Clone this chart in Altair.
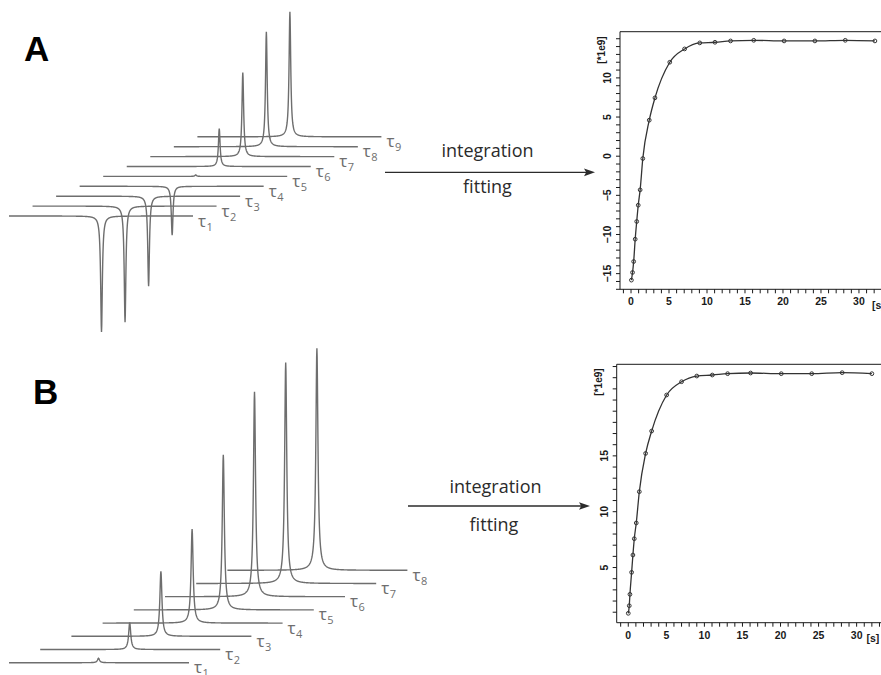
import altair as alt
import pandas as pd

# ---------------- data ----------------
# stacked spectra: peak heights (in drawing units, + = up, - = inverted)
A_traces = ["1", "2", "3", "4", "5", "6", "7", "8", "9"]
A_peak = [-116, -116, -90, -49, 1.5, 38, 84, 115, 125]
B_traces = ["1", "2", "3", "4", "5", "6", "7", "8"]
B_peak = [4.5, 27, 65, 94, 155, 205, 221, 222]

# recovery curves (integrals, *1e9) vs delay [s]
A_t = [0.05, 0.2, 0.35, 0.55, 0.75, 0.95, 1.2, 1.55, 2.4, 3.15, 5.1, 7.05, 9.05, 11.05, 13.1, 16.15, 20.15, 24.2, 28.2, 32.1]
A_I = [-15.83, -14.85, -13.45, -10.6, -8.34, -6.26, -4.3, -0.3, 4.6, 7.45, 12.0, 13.7, 14.47, 14.55, 14.72, 14.8, 14.72, 14.72, 14.8, 14.72]
B_t = [0.0, 0.13, 0.22, 0.44, 0.61, 0.79, 1.05, 1.45, 2.28, 3.07, 5.04, 7.0, 9.0, 11.04, 13.05, 16.07, 20.1, 24.1, 28.1, 32.0]
B_I = [0.9, 1.58, 2.6, 4.57, 6.12, 7.58, 8.99, 11.79, 15.22, 17.22, 20.45, 21.64, 22.15, 22.24, 22.36, 22.42, 22.36, 22.36, 22.45, 22.36]

# axis ticks and labels
A_xticks = list(range(-1, 33))
A_xlabels = [0, 5, 10, 15, 20, 25, 30]
A_yticks = list(range(-17, 16))
A_ylabels = [-15, -10, -5, 0, 5, 10]
B_xticks = list(range(-1, 34))
B_xlabels = [0, 5, 10, 15, 20, 25, 30]
B_yticks = list(range(1, 24))
B_ylabels = [5, 10, 15]

# ---------------- layout / style ----------------
W, H = 881, 675
GRAY = "#6e6e6e"
DARK = "#2b2b2b"
AXC = "#1a1a1a"
TXT_FONT = "Open Sans"
AX_FONT = "Liberation Sans"

A_geo = dict(x0=9, dx=23.55, y0=216, dy=-9.9, peak=92.5, length=184, hw=1.0)
B_geo = dict(x0=9, dx=31.2, y0=662.7, dy=-13.2, peak=89.5, length=180, hw=1.25)

px_scale = alt.Scale(domain=[0, W], range=[0, W], nice=False, zero=False)
py_scale = alt.Scale(domain=[0, H], range=[0, H], nice=False, zero=False)


def spectra(traces, peaks, g):
    df = pd.DataFrame({"k": list(range(len(traces))), "amp": peaks, "lab": traces})
    hw2 = g["hw"] ** 2
    lines = (
        alt.Chart(df)
        .transform_calculate(f=f"sequence(0, {g['length']} + 0.001, 0.25)")
        .transform_flatten(["f"])
        .transform_calculate(
            px=f"{g['x0']} + datum.k * {g['dx']} + datum.f",
            py=f"{g['y0']} + datum.k * {g['dy']} - datum.amp * {hw2} / ((datum.f - {g['peak']}) * (datum.f - {g['peak']}) + {hw2})",
        )
        .mark_line(color=GRAY, strokeWidth=1.4)
        .encode(
            x=alt.X("px:Q", scale=px_scale, axis=None),
            y=alt.Y("py:Q", scale=py_scale, axis=None),
            detail="k:N",
            order="f:Q",
        )
    )
    tau = (
        alt.Chart(df)
        .transform_calculate(
            px=f"{g['x0']} + datum.k * {g['dx']} + {g['length']} + 5",
            py=f"{g['y0']} + datum.k * {g['dy']} + 10.5",
        )
        .mark_text(text="τ", font=TXT_FONT, fontSize=17, color=GRAY, align="left", baseline="alphabetic")
        .encode(x=alt.X("px:Q", scale=px_scale, axis=None), y=alt.Y("py:Q", scale=py_scale, axis=None))
    )
    sub = (
        alt.Chart(df)
        .transform_calculate(
            px=f"{g['x0']} + datum.k * {g['dx']} + {g['length']} + 13.5",
            py=f"{g['y0']} + datum.k * {g['dy']} + 14.5",
        )
        .mark_text(font=TXT_FONT, fontSize=11, color=GRAY, align="left", baseline="alphabetic")
        .encode(
            x=alt.X("px:Q", scale=px_scale, axis=None),
            y=alt.Y("py:Q", scale=py_scale, axis=None),
            text="lab:N",
        )
    )
    return [lines, tau, sub]


def txt(s, x, y, size=18, weight="normal", font=TXT_FONT, align="center", color=DARK, angle=0):
    return alt.Chart().mark_text(
        text=s, font=font, fontSize=size, fontWeight=weight, align=align,
        baseline="alphabetic", color=color, angle=angle,
    ).encode(x=alt.value(x), y=alt.value(y))


ARROW = "M1,0 L-1,-0.7 L-0.6,0 L-1,0.7 Z"


def arrow(x1, x2, y):
    r = alt.Chart().mark_rule(color=DARK, strokeWidth=1.3).encode(
        x=alt.value(x1), x2=alt.value(x2 - 5), y=alt.value(y))
    h = alt.Chart().mark_point(shape=ARROW, filled=True, size=121, color=DARK, opacity=1).encode(
        x=alt.value(x2 - 5.5), y=alt.value(y))
    return [r, h]


canvas = alt.layer(
    *spectra(A_traces, A_peak, A_geo),
    *spectra(B_traces, B_peak, B_geo),
    txt("A", 24, 61, size=35, weight="bold", font=AX_FONT, align="left", color="#000"),
    txt("B", 33, 404, size=35, weight="bold", font=AX_FONT, align="left", color="#000"),
    txt("integration", 487.5, 157),
    txt("fitting", 487.5, 193),
    txt("integration", 495.5, 493),
    txt("fitting", 494, 531),
    *arrow(385, 595, 172.3),
    *arrow(408, 590, 506),
)


def fit_plot(t, I, xdom, xr, ydom, yr, xticks, xlabels, yticks, ylabels, unit_y, sec_x):
    df = pd.DataFrame({"t": t, "I": I})
    xs = alt.Scale(domain=xdom, range=xr, nice=False, zero=False)
    ys = alt.Scale(domain=ydom, range=yr, nice=False, zero=False)

    def X(**kw):
        return alt.X(scale=xs, axis=None, **kw)

    def Y(**kw):
        return alt.Y(scale=ys, axis=None, **kw)

    line = alt.Chart(df).mark_line(interpolate="monotone", color="#333", strokeWidth=1.3).encode(
        x=X(field="t", type="quantitative"), y=Y(field="I", type="quantitative"))
    pts = alt.Chart(df).mark_point(shape="circle", size=14, filled=False, color="#333",
                                   strokeWidth=1, opacity=1).encode(
        x=X(field="t", type="quantitative"), y=Y(field="I", type="quantitative"))

    # frame (left / bottom / top; right side lies beyond the picture edge)
    left = alt.Chart().mark_rule(color=AXC, strokeWidth=1).encode(
        x=X(datum=xdom[0]), y=Y(datum=ydom[0]), y2=alt.datum(ydom[1]))
    bottom = alt.Chart().mark_rule(color=AXC, strokeWidth=1).encode(
        x=X(datum=xdom[0]), x2=alt.datum(xdom[1] + 10), y=Y(datum=ydom[0]))
    top = alt.Chart().mark_rule(color=AXC, strokeWidth=1).encode(
        x=X(datum=xdom[0]), x2=alt.datum(xdom[1] + 10), y=Y(datum=ydom[1]))

    # ticks
    xt = alt.Chart(pd.DataFrame({"v": xticks})).mark_rule(color=AXC, strokeWidth=1, y2Offset=4).encode(
        x=X(field="v", type="quantitative"), y=Y(datum=ydom[0]), y2=alt.datum(ydom[0]))
    yt = alt.Chart(pd.DataFrame({"v": yticks})).mark_rule(color=AXC, strokeWidth=1, x2Offset=-4).encode(
        y=Y(field="v", type="quantitative"), x=X(datum=xdom[0]), x2=alt.datum(xdom[0]))

    # tick labels
    xl = alt.Chart(pd.DataFrame({"v": xlabels})).mark_text(
        font=AX_FONT, fontWeight="bold", fontSize=10.5, color=AXC, baseline="top", align="center", dy=8,
    ).encode(x=X(field="v", type="quantitative"), y=Y(datum=ydom[0]),
             text=alt.Text("v:Q", format="d"))
    yl = alt.Chart(pd.DataFrame({"v": ylabels})).mark_text(
        font=AX_FONT, fontWeight="bold", fontSize=10.5, color=AXC, baseline="bottom", align="center",
        angle=270, dy=-7,
    ).encode(y=Y(field="v", type="quantitative"), x=X(datum=xdom[0]),
             text=alt.Text("v:Q", format="d"))

    unit = txt("[*1e9]", xr[0] - 15, unit_y, size=10, weight="bold", font=AX_FONT, color=AXC, angle=270)
    sec = txt("[s]", sec_x, yr[0] + 19.5, size=10.5, weight="bold", font=AX_FONT, align="left", color=AXC)
    return alt.layer(line, pts, left, bottom, top, xt, yt, xl, yl, unit, sec)


fitA = fit_plot(A_t, A_I, [-1.45, 32.9], [620, 881], [-17.0, 15.9], [289.3, 31.7],
                A_xticks, A_xlabels, A_yticks, A_ylabels, 50, 872)
fitB = fit_plot(B_t, B_I, [-1.52, 33.2], [616.7, 881], [0.06, 23.2], [622.7, 364.3],
                B_xticks, B_xlabels, B_yticks, B_ylabels, 382, 866.5)

chart = (
    alt.layer(canvas, fitA, fitB)
    .resolve_scale(x="independent", y="independent")
    .properties(width=W, height=H, autosize=alt.AutoSizeParams(type="none"), padding=0, background="white")
    .configure_view(stroke=None)
)

chart.save("out.html", embed_options={"renderer": "svg", "actions": False})
